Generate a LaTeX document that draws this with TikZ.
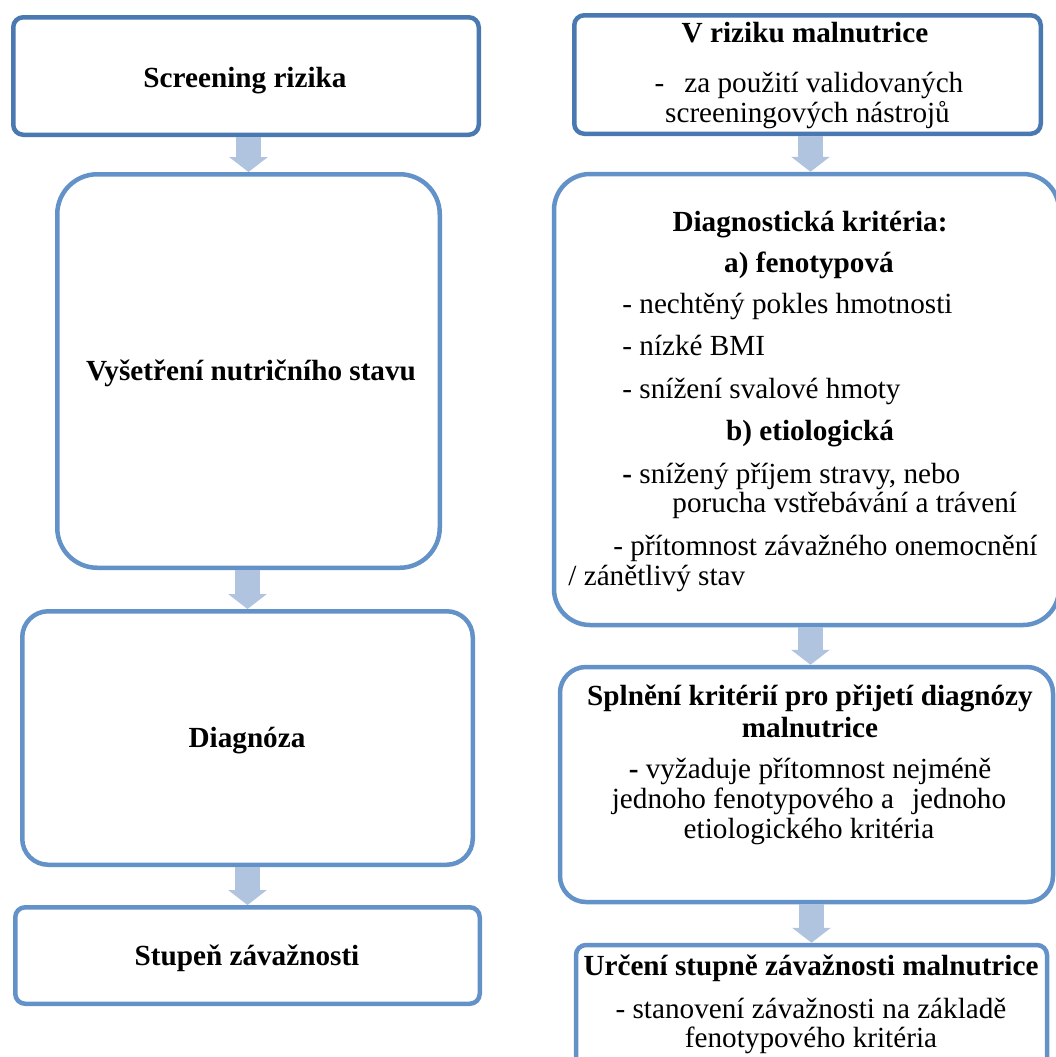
\documentclass[tikz,border=0pt]{standalone}
\usepackage{fontspec}
\setmainfont{Liberation Serif}
\usetikzlibrary{arrows.meta}
\definecolor{darkb}{RGB}{74,120,176}
\definecolor{lightb}{RGB}{99,146,200}
\definecolor{arrowc}{RGB}{176,195,223}
\begin{document}
\begin{tikzpicture}[x=0.5pt,y=-0.5pt,
  box/.style={draw=lightb, line width=2.25pt, inner sep=0pt},
  txt/.style={inner sep=0pt, font=\fontsize{14.6}{17}\selectfont},
  btxt/.style={inner sep=0pt, font=\fontsize{14.6}{17}\selectfont\bfseries},
  flow/.style={draw=arrowc, line width=12.5pt, -{Triangle[width=19pt,length=7.5pt]}}]
\useasboundingbox (0,0) rectangle (1056,1057);
% left column boxes
\node[box, draw=darkb, rounded corners=5pt, minimum width=232.75pt, minimum height=58.75pt] (b1) at (246,76) {};
\node[box, rounded corners=20pt, minimum width=191.25pt, minimum height=196.75pt] (b2) at (248.5,371) {};
\node[box, rounded corners=13pt, minimum width=225.25pt, minimum height=126.75pt] (b3) at (247.5,738) {};
\node[box, rounded corners=5pt, minimum width=232.25pt, minimum height=48.25pt] (b4) at (247.5,955.5) {};
% right column boxes
\node[box, draw=darkb, rounded corners=5pt, minimum width=233.25pt, minimum height=59.25pt] (r1) at (807.5,74.5) {};
\node[box, rounded corners=18pt, minimum width=252.5pt, minimum height=225.5pt] (r2) at (806.5,399.5) {};
\node[box, rounded corners=13pt, minimum width=246.5pt, minimum height=117.5pt] (r3) at (806.5,784.5) {};
\node[box, rounded corners=5pt, minimum width=235.5pt, minimum height=65pt] (r4) at (811.5,1010) {};
% connectors
\draw[flow] (b2.north |- b1.south) -- (b2.north);
\draw[flow] (b3.north |- b2.south) -- (b3.north);
\draw[flow] (b4.north |- b3.south) -- (b4.north);
\draw[flow] ([xshift=2pt]r2.north |- r1.south) -- ([xshift=2pt]r2.north);
\draw[flow] ([xshift=2pt]r3.north |- r2.south) -- ([xshift=2pt]r3.north);
\draw[flow] (r4.north |- r3.south) -- (r4.north);
% left texts
\node[btxt, anchor=base] (t1) at (245,87) {Screening rizika};
\node[btxt, anchor=base] (t2) at (251,380) {Vyšetření nutričního stavu};
\node[btxt, anchor=base] (t3) at (247,747) {Diagnóza};
\node[btxt, anchor=base] (t4) at (247,965) {Stupeň závažnosti};
% r1 texts
\node[btxt, anchor=base] (u1) at (805,42) {V riziku malnutrice};
\node[txt, anchor=base] (u2) at (809,92) {-\hspace{10pt}za použití validovaných};
\node[txt, anchor=base] (u3) at (807.5,122) {screeningových nástrojů};
% r2 texts
\node[btxt, anchor=base] (v1) at (810,231) {Diagnostická kritéria:};
\node[btxt, anchor=base] (v2) at (809,272) {a) fenotypová};
\node[txt, anchor=base west] (v3) at (622,313) {- nechtěný pokles hmotnosti};
\node[txt, anchor=base west] (v4) at (622,355) {- nízké BMI};
\node[txt, anchor=base west] (v5) at (622,398) {- snížení svalové hmoty};
\node[btxt, anchor=base] (v6) at (810,440) {b) etiologická};
\node[txt, anchor=base west] (v7) at (622,483) {\textbf{-} snížený příjem stravy, nebo};
\node[txt, anchor=base west] (v8) at (672,512) {porucha vstřebávání a trávení};
\node[txt, anchor=base west] (v9) at (613,555) {- přítomnost závažného onemocnění};
\node[txt, anchor=base west] (v10) at (568,585) {/ zánětlivý stav};
% r3 texts
\node[btxt, anchor=base] (w1) at (810,705) {Splnění kritérií pro přijetí diagnózy};
\node[btxt, anchor=base] (w2) at (810,737) {malnutrice};
\node[txt, anchor=base] (w3) at (810,778) {\textbf{-} vyžaduje přítomnost nejméně};
\node[txt, anchor=base] (w4) at (809,808) {jednoho fenotypového a\hspace{9pt}jednoho};
\node[txt, anchor=base] (w5) at (809,838) {etiologického kritéria};
% r4 texts
\node[btxt, anchor=base] (x1) at (811,975) {Určení stupně závažnosti malnutrice};
\node[txt, anchor=base] (x2) at (811,1018) {- stanovení závažnosti na základě};
\node[txt, anchor=base] (x3) at (811,1047) {fenotypového kritéria};
\end{tikzpicture}
\end{document}
